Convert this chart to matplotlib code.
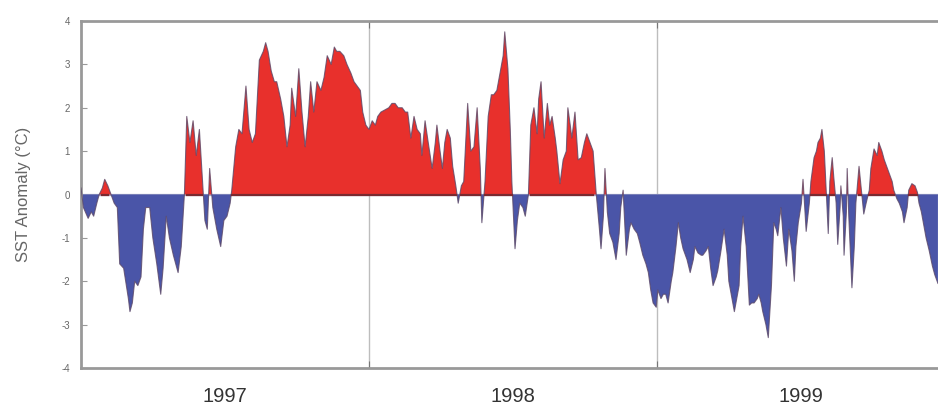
import numpy as np
import matplotlib
matplotlib.use("Agg")
import matplotlib.pyplot as plt

plt.rcParams["font.family"] = ["Liberation Sans", "DejaVu Sans"]

# SST anomaly, days since 1997-01-01
days = [
    0, 3, 9, 13, 16, 20, 23, 27, 30, 34, 38, 42, 46, 49, 54, 60, 62, 65, 68, 72,
    76, 79, 82, 87, 91, 96, 101, 104, 108, 112, 117, 120, 123, 127, 131, 134, 138, 142, 146, 150,
    153,
    157, 160, 163, 167, 172, 177, 181, 185, 189, 191, 196, 200, 204, 209, 213, 217, 221, 226, 231,
    234, 237, 241, 245, 248, 253, 257, 261, 265, 267, 272, 276, 280, 284, 288, 291, 295, 299, 304,
    308, 312,
    317, 321, 324, 328, 333, 337, 342, 346, 350, 354, 357, 361, 365, 369, 373, 376, 380, 385, 390,
    394, 398, 402, 407, 411, 414, 418, 422, 426, 430, 432, 436, 440, 445, 449, 451, 455, 458, 461,
    464,
    468, 471, 475, 478, 482, 485, 490, 494, 498, 502, 506, 508, 512, 516, 520, 523, 527, 531, 535,
    537, 541, 544, 546, 550, 553, 556, 560, 563, 567, 570, 574, 578, 580, 583, 587, 591, 594, 597,
    601, 603, 607, 611, 615, 617, 620, 622,
    626, 630, 634, 638, 641, 645, 649, 653, 657, 659, 662, 664, 667, 670, 674, 678, 682, 684, 687,
    691, 695, 697, 701, 705, 708, 712, 716, 719, 722, 725, 729, 731, 735, 738, 741, 744, 748, 750,
    754, 757, 760, 763, 768, 772, 776, 778,
    782, 786, 788, 792, 795, 798, 801, 805, 807, 811, 815, 819, 821, 825, 828, 831, 834, 836, 839,
    843, 847, 850, 853, 857, 859, 862, 864, 868, 871, 875, 878, 881, 883, 887, 890, 894, 897, 901,
    904, 906, 909, 913, 915, 919, 923, 925, 929, 932, 934,
    937, 939, 942, 944, 947, 949, 952, 954, 957, 959, 962, 963, 966, 967, 970, 971, 973, 977, 980,
    982, 986, 989, 992, 995, 999, 1001, 1005, 1009, 1011, 1015, 1018, 1022, 1024, 1028, 1030, 1034,
    1037, 1041, 1043, 1047, 1049, 1053, 1057, 1060, 1062, 1065, 1068, 1071, 1075, 1079, 1082, 1086,
]
sst = [
    0.15, -0.3, -0.55, -0.4, -0.5, -0.2, 0.0, 0.15, 0.35, 0.2, 0.0, -0.2, -0.3, -1.6, -1.7, -2.4, -2.7, -2.5, -2.0, -2.1,
    -1.9, -0.8, -0.3, -0.3, -1.0, -1.6, -2.3, -1.7, -0.5, -1.0, -1.4, -1.6, -1.8, -1.2, 0.0, 1.8, 1.2, 1.7, 0.9, 1.5,
    0.6,
    -0.6, -0.8, 0.6, -0.3, -0.8, -1.2, -0.6, -0.5, -0.2, 0.1, 1.1, 1.5, 1.4, 2.5, 1.5, 1.2, 1.4, 3.1, 3.3,
    3.5, 3.3, 2.85, 2.6, 2.6, 2.2, 1.8, 1.1, 1.6, 2.45, 1.8, 2.9, 1.9, 1.1, 1.8, 2.6, 1.9, 2.6, 2.4,
    2.7, 3.2,
    3.0, 3.4, 3.3, 3.3, 3.2, 3.0, 2.8, 2.6, 2.5, 2.4, 1.9, 1.6, 1.5, 1.7, 1.6, 1.8, 1.9, 1.95, 2.0,
    2.1, 2.1, 2.0, 2.0, 1.9, 1.9, 1.3, 1.8, 1.5, 1.4, 0.9, 1.7, 1.2, 0.6, 1.2, 1.6, 1.0, 0.6, 1.2,
    1.5,
    1.3, 0.65, 0.2, -0.2, 0.2, 0.3, 2.1, 1.0, 1.1, 2.0, 0.6, -0.65, 0.3, 1.8, 2.3, 2.3, 2.4, 2.8, 3.2,
    3.75, 2.9, 1.5, 0.3, -1.25, -0.6, -0.2, -0.3, -0.5, 0.0, 1.6, 2.0, 1.4, 2.2, 2.6, 1.3, 2.1, 1.6, 1.8,
    1.3, 1.0, 0.25, 0.8, 1.0, 2.0, 1.6, 1.3,
    1.9, 0.8, 0.85, 1.2, 1.4, 1.2, 1.0, 0.0, -0.8, -1.25, -0.5, 0.6, -0.4, -0.9, -1.1, -1.5, -0.9, -0.3, 0.1,
    -1.4, -0.8, -0.65, -0.8, -0.9, -1.1, -1.4, -1.6, -1.8, -2.2, -2.5, -2.6, -2.2, -2.4, -2.3, -2.3, -2.5, -2.0, -1.8,
    -1.2, -0.65, -1.0, -1.25, -1.5, -1.8, -1.5, -1.2,
    -1.35, -1.4, -1.4, -1.3, -1.2, -1.7, -2.1, -1.9, -1.75, -1.3, -0.8, -1.4, -2.0, -2.4, -2.7, -2.4, -2.1, -1.2, -0.5,
    -1.2, -2.55, -2.5, -2.5, -2.4, -2.3, -2.5, -2.7, -3.0, -3.3, -2.1, -0.65, -0.8, -0.95, -0.3, -1.0, -1.65, -0.8, -1.3,
    -2.0, -1.2, -0.65, -0.2, 0.35, -0.85, -0.2, 0.3, 0.85, 1.0, 1.2,
    1.3, 1.5, 1.0, 0.25, -0.9, 0.3, 0.85, 0.4, -0.2, -1.15, -0.3, 0.2, -0.5, -1.4, -0.4, 0.6, -0.5, -2.15, -1.2,
    -0.2, 0.65, 0.1, -0.45, -0.2, 0.1, 0.6, 1.05, 0.9, 1.2, 1.0, 0.8, 0.6, 0.5, 0.3, 0.1, -0.1,
    -0.2, -0.4, -0.65, -0.3, 0.1, 0.25, 0.2, 0.05, -0.2, -0.4, -0.7, -1.0, -1.3, -1.65, -1.85, -2.05,
]
years = ["1997", "1998", "1999"]
year_len = 365

t = np.array(days, dtype=float)
v = np.array(sst)

fig = plt.figure(figsize=(9.38, 4.11), dpi=100)
ax = fig.add_axes([0.0864, 0.1046, 0.9211, 0.8443])

red = "#e8302c"
blue = "#4a55a8"
ax.axhline(0, color="#a6a9c6", lw=1.6, zorder=1.5)
ax.fill_between(t, v, 0, where=v >= 0, interpolate=True, color=red, lw=0, zorder=2)
ax.fill_between(t, v, 0, where=v <= 0, interpolate=True, color=blue, lw=0, zorder=2)
ax.plot(t, v, color="#5b4868", lw=0.8, alpha=0.8, zorder=3)
# dark base line under the warm spells only
ax.plot(t, np.where(v > 0, 0.0, np.nan), color="#7a2a30", lw=1.6, zorder=4)

bounds = [year_len * (i + 1) for i in range(len(years) - 1)]
for b in bounds:
    ax.axvline(b, color="#bdbdbd", lw=1.0, zorder=1)

ax.set_xlim(0, year_len * len(years))
ax.set_ylim(-4, 4)

ax.set_yticks(range(-4, 5))
ax.set_yticklabels([str(i) for i in range(-4, 5)], fontsize=7, color="#666666")
ax.tick_params(axis="y", direction="in", length=4, color="#999999", pad=8)

ax.set_xticks(bounds)
ax.set_xticklabels([])
ax.tick_params(axis="x", which="major", direction="in", length=5, color="#777777",
               top=True, bottom=True)
ax.set_xticks([year_len * (i + 0.5) for i in range(len(years))], minor=True)
ax.set_xticklabels(years, minor=True, fontsize=14.5, color="#333333")
ax.tick_params(axis="x", which="minor", length=0, pad=14)

for s in ax.spines.values():
    s.set_color("#999999")
    s.set_linewidth(2)

ax.set_ylabel("SST Anomaly (°C)", fontsize=12, color="#666666", labelpad=22)

fig.savefig("out.png", dpi=100)
